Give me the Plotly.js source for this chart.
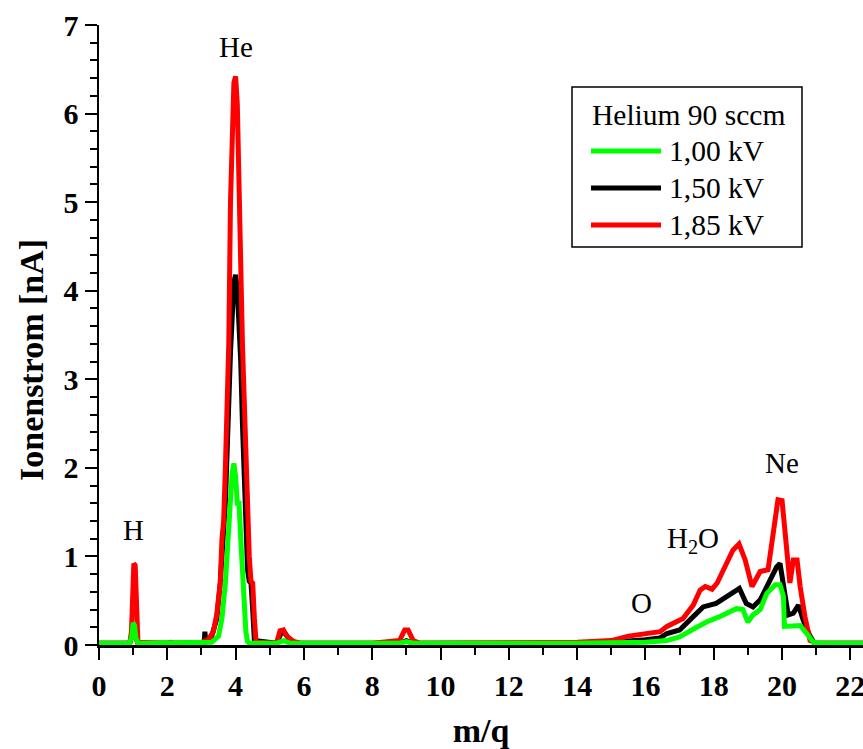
<!DOCTYPE html>
<html>
<head>
<meta charset="utf-8">
<script src="https://cdn.plot.ly/plotly-3.0.1.min.js"></script>
<style>html,body{margin:0;padding:0;background:#fff;}</style>
</head>
<body>
<div id="chart" style="width:863px;height:749px;"></div>
<script>
// ---- data ----
const seriesNames = ["1,00 kV", "1,50 kV", "1,85 kV"];
const seriesColors = ["#00ff00", "#000000", "#ff0000"];
const legendTitle = "Helium 90 sccm";

const mq_100 = [0, 0.9, 0.96, 1.0, 1.04, 1.08, 1.14, 2.0, 3.0, 3.3, 3.5, 3.6, 3.7, 3.75, 3.8, 3.85, 3.9, 3.95, 4.0, 4.05, 4.1, 4.15, 4.2, 4.25, 4.3, 4.35, 4.4, 5.2, 5.4, 5.6, 8.8, 9.0, 9.2, 14, 15, 16, 16.63, 17.0, 17.5, 17.79, 18.17, 18.66, 18.85, 19.0, 19.15, 19.36, 19.55, 19.8, 19.94, 20.04, 20.07, 20.33, 20.53, 20.72, 20.92, 21.1, 22.4];
const ion_100 = [0.02, 0.02, 0.1, 0.25, 0.22, 0.08, 0.02, 0.02, 0.02, 0.03, 0.1, 0.3, 0.7, 1.0, 1.4, 1.7, 1.95, 2.05, 1.9, 1.6, 1.6, 1.2, 0.8, 0.4, 0.15, 0.04, 0.02, 0.02, 0.05, 0.02, 0.02, 0.04, 0.02, 0.02, 0.02, 0.03, 0.05, 0.09, 0.2, 0.26, 0.32, 0.41, 0.40, 0.26, 0.34, 0.40, 0.58, 0.68, 0.68, 0.55, 0.21, 0.21, 0.22, 0.13, 0.03, 0.02, 0.02];

const mq_150 = [0, 0.9, 0.96, 1.0, 1.04, 1.08, 1.14, 3.0, 3.08, 3.1, 3.13, 3.3, 3.45, 3.55, 3.6, 3.65, 3.7, 3.75, 3.8, 3.85, 3.9, 3.95, 4.0, 4.05, 4.1, 4.15, 4.2, 4.25, 4.3, 4.35, 4.4, 4.45, 4.5, 4.55, 5.2, 5.35, 5.45, 5.6, 5.8, 8.8, 9.0, 9.2, 14, 15, 16, 16.43, 16.63, 17.0, 17.4, 17.69, 18.07, 18.39, 18.75, 18.95, 19.15, 19.36, 19.65, 19.84, 19.94, 20.04, 20.18, 20.33, 20.48, 20.62, 20.82, 20.95, 22.4];
const ion_150 = [0.02, 0.02, 0.1, 0.22, 0.2, 0.08, 0.02, 0.02, 0.02, 0.15, 0.03, 0.1, 0.3, 0.7, 1.1, 1.3, 1.6, 2.3, 2.9, 3.3, 3.7, 4.1, 4.18, 4.0, 3.6, 3.2, 2.5, 1.8, 1.2, 0.85, 0.72, 0.7, 0.4, 0.05, 0.02, 0.15, 0.13, 0.05, 0.02, 0.02, 0.05, 0.02, 0.02, 0.03, 0.06, 0.08, 0.13, 0.17, 0.32, 0.43, 0.47, 0.55, 0.64, 0.47, 0.43, 0.51, 0.73, 0.88, 0.92, 0.70, 0.34, 0.36, 0.45, 0.28, 0.1, 0.02, 0.02];

const mq_185 = [0, 0.9, 0.95, 0.98, 1.02, 1.06, 1.1, 1.14, 2.0, 2.1, 2.2, 3.0, 3.2, 3.35, 3.45, 3.55, 3.6, 3.65, 3.7, 3.75, 3.8, 3.85, 3.9, 3.95, 4.0, 4.05, 4.1, 4.15, 4.2, 4.25, 4.3, 4.35, 4.4, 4.45, 4.5, 4.55, 4.6, 5.2, 5.3, 5.4, 5.5, 5.7, 5.9, 8.0, 8.8, 8.95, 9.05, 9.2, 9.4, 14, 15, 15.5, 16.0, 16.43, 16.63, 17.1, 17.4, 17.6, 17.75, 17.95, 18.1, 18.39, 18.56, 18.74, 18.92, 19.12, 19.36, 19.59, 19.8, 19.88, 20.0, 20.15, 20.23, 20.33, 20.44, 20.53, 20.67, 20.82, 21.0, 22.4];
const ion_185 = [0.02, 0.02, 0.15, 0.7, 0.92, 0.9, 0.4, 0.03, 0.02, 0.03, 0.02, 0.03, 0.06, 0.15, 0.35, 0.7, 1.2, 1.4, 2.0, 2.6, 3.4, 5.0, 5.9, 6.35, 6.42, 6.1, 5.2, 4.0, 3.4, 2.8, 2.1, 1.5, 1.0, 0.72, 0.7, 0.3, 0.03, 0.02, 0.16, 0.17, 0.1, 0.04, 0.02, 0.02, 0.05, 0.17, 0.17, 0.05, 0.02, 0.03, 0.05, 0.1, 0.12, 0.15, 0.21, 0.30, 0.45, 0.62, 0.66, 0.63, 0.70, 0.92, 1.07, 1.14, 0.96, 0.66, 0.83, 0.85, 1.37, 1.64, 1.63, 1.07, 0.70, 0.96, 0.96, 0.66, 0.32, 0.05, 0.02, 0.02];

const peakLabels = ["H", "He", "O", "H<sub>2</sub>O", "Ne"];
const peakLabelX = [1.0, 4.01, 15.87, 17.39, 20.0];
const peakLabelY = [1.30, 6.75, 0.47, 1.19, 2.05];

const xTitle = "m/q";
const yTitle = "Ionenstrom [nA]";

// ---- figure ----
const W = 863, H = 749;
const M = {l: 99, r: 0, t: 25, b: 104};
const PW = W - M.l - M.r, PH = H - M.t - M.b;
const px2x = p => (p - M.l) / PW;
const py2y = p => (H - M.b - p) / PH;

const FONT = "Liberation Serif";
const xs = [mq_100, mq_150, mq_185];
const ys = [ion_100, ion_150, ion_185];
const drawOrder = [1, 2, 0];

const traces = drawOrder.map(i => ({
  x: xs[i], y: ys[i], type: "scatter", mode: "lines", name: seriesNames[i],
  line: {color: seriesColors[i], width: 5}, showlegend: false, hoverinfo: "skip"
}));

const annotations = peakLabels.map((t, i) => ({
  x: peakLabelX[i], y: peakLabelY[i], xref: "x", yref: "y", text: t,
  showarrow: false, font: {family: FONT, size: 29, color: "#000"}
}));

// y-axis title placed as rotated annotation
annotations.push({
  xref: "paper", yref: "paper", x: px2x(31), y: py2y(360), text: "<b>" + yTitle + "</b>",
  textangle: -90, showarrow: false, xanchor: "center", yanchor: "middle",
  font: {family: FONT, size: 34, color: "#000"}
});

// legend box (manual)
const shapes = [{
  type: "rect", xref: "paper", yref: "paper",
  x0: px2x(572), x1: px2x(802), y0: py2y(247), y1: py2y(87),
  line: {color: "#000", width: 1.5}, fillcolor: "#fff", layer: "above"
}];
annotations.push({
  xref: "paper", yref: "paper", x: px2x(688), y: py2y(115), text: legendTitle,
  showarrow: false, xanchor: "center", yanchor: "middle",
  font: {family: FONT, size: 29.5, color: "#000"}
});
const entryY = [151, 188, 225];
[0, 1, 2].forEach((i, k) => {
  shapes.push({
    type: "line", xref: "paper", yref: "paper",
    x0: px2x(591), x1: px2x(661), y0: py2y(entryY[k]), y1: py2y(entryY[k]),
    line: {color: seriesColors[i], width: 5}, layer: "above"
  });
  annotations.push({
    xref: "paper", yref: "paper", x: px2x(667), y: py2y(entryY[k]), text: seriesNames[i],
    showarrow: false, xanchor: "left", yanchor: "middle",
    font: {family: FONT, size: 29.5, color: "#000"}
  });
});

const axisCommon = {
  showgrid: false, zeroline: false, showline: true, linecolor: "#000", linewidth: 2.5,
  ticks: "outside", ticklen: 12, tickwidth: 2, tickcolor: "#000",
  tickfont: {family: FONT, size: 30, color: "#000"},
  layer: "below traces", fixedrange: true, ticklabeloverflow: "allow"
};

const layout = {
  width: W, height: H, margin: M, paper_bgcolor: "#fff", plot_bgcolor: "#fff",
  font: {family: FONT, color: "#000"},
  showlegend: false,
  xaxis: Object.assign({}, axisCommon, {
    range: [0, 22.37], tick0: 0, dtick: 2, tickprefix: "<b>", ticksuffix: "</b>",
    minor: {dtick: 1, tick0: 0, ticks: "outside", ticklen: 7, tickwidth: 2, tickcolor: "#000"},
    title: {text: "<b>" + xTitle + "</b>", standoff: 20, font: {family: FONT, size: 34, color: "#000"}},
    automargin: false
  }),
  yaxis: Object.assign({}, axisCommon, {
    range: [0, 7], tick0: 0, dtick: 1, tickprefix: "<b>", ticksuffix: "</b>",
    minor: {dtick: 0.2, tick0: 0, ticks: "outside", ticklen: 7, tickwidth: 2, tickcolor: "#000"},
    automargin: false
  }),
  annotations: annotations, shapes: shapes
};

Plotly.newPlot("chart", traces, layout, {displayModeBar: false, staticPlot: true});
</script>
</body>
</html>
